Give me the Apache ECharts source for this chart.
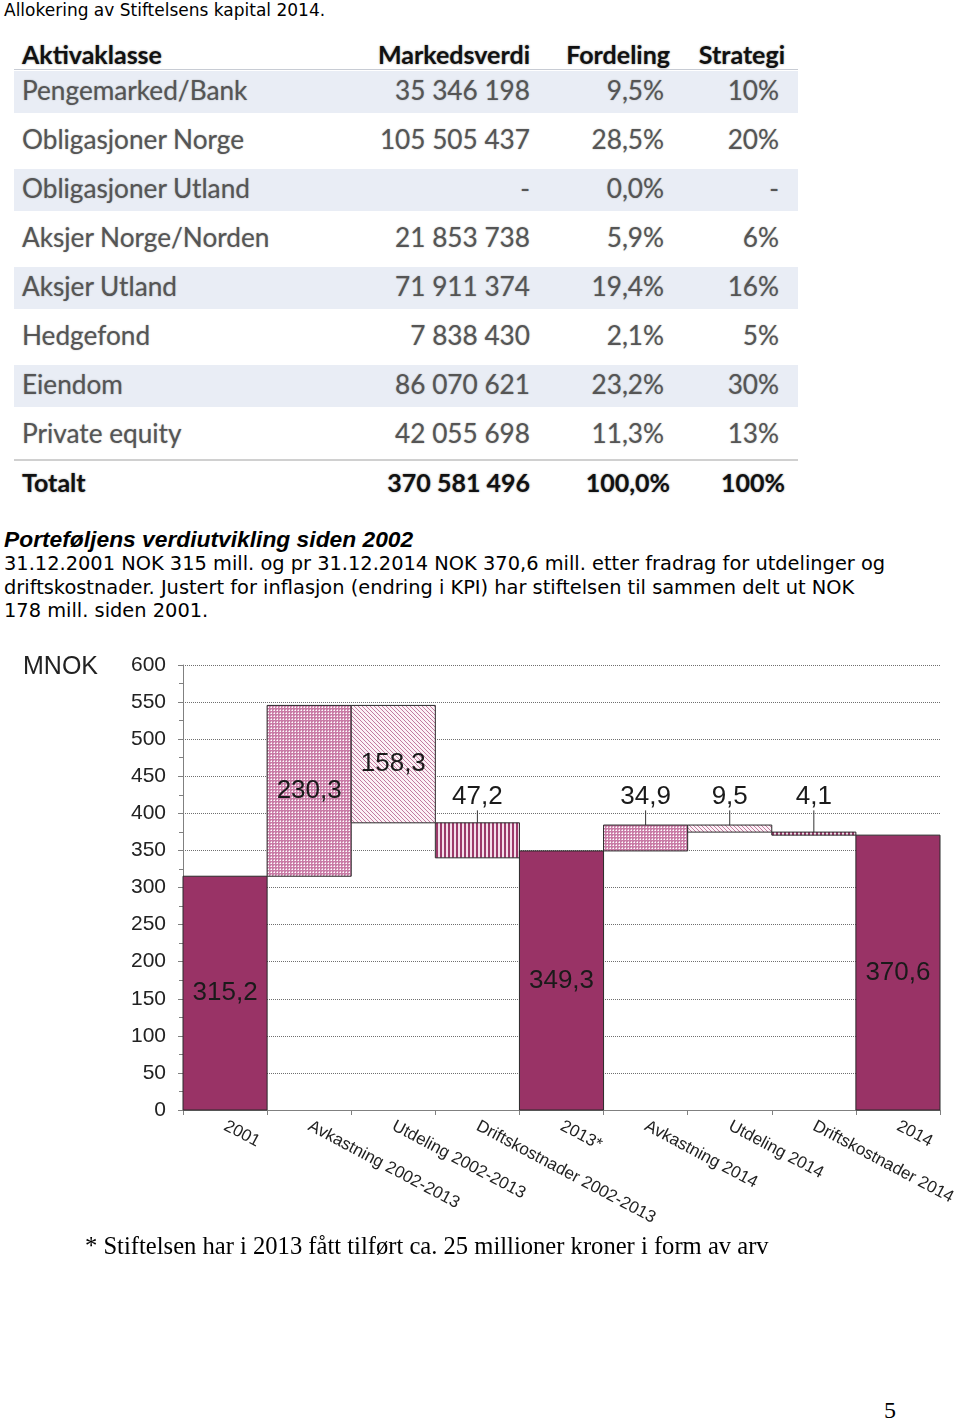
<!DOCTYPE html>
<html>
<head>
<meta charset="utf-8">
<script src="https://cdn.jsdelivr.net/npm/echarts@6.0.0/dist/echarts.min.js"></script>
<style>
  html, body { margin: 0; padding: 0; background: #fff; }
  #page { position: relative; width: 960px; height: 1420px; overflow: hidden; background: #fff; }
  .abs { position: absolute; white-space: nowrap; }
  .verdana { font-family: "DejaVu Sans", Verdana, sans-serif; color: #000; }
  .tbl { font-family: Lato, "Open Sans", sans-serif; font-size: 26.2px; }
  .band { position: absolute; left: 14px; width: 784px; height: 42px; background: #e9edf5; }
  .cell { position: absolute; height: 44px; line-height: 44px; color: #555; text-shadow: 0 0 1.5px rgba(0,0,0,0.35); }
  .head { color: #111; font-weight: bold; font-size: 25px; text-shadow: 0 0 2px rgba(0,0,0,0.45); }
  #chart { position: absolute; left: 0; top: 640px; width: 960px; height: 600px; }
</style>
</head>
<body>
<div id="page">
  <div class="abs verdana" style="left:4px; top:0; font-size:17px; line-height:20px;">Allokering av Stiftelsens kapital 2014.</div>
  <div id="table"></div>
  <div class="abs" style="left:4px; top:526px; font:italic bold 22.8px 'Liberation Sans', Arial, sans-serif; line-height:26px;">Porteføljens verdiutvikling siden 2002</div>
  <div class="abs verdana" style="left:4px; top:552px; font-size:19.4px; line-height:23.5px;">31.12.2001 NOK 315 mill. og pr 31.12.2014 NOK 370,6 mill. etter fradrag for utdelinger og<br>driftskostnader. Justert for inflasjon (endring i KPI) har stiftelsen til sammen delt ut NOK<br>178 mill. siden 2001.</div>
  <div id="chart"></div>
  <div class="abs" style="left:85px; top:1231px; font:24.6px 'Liberation Serif', 'Times New Roman', serif; line-height:30px;">* Stiftelsen har i 2013 fått tilført ca. 25 millioner kroner i form av arv</div>
  <div class="abs" style="left:884px; top:1395px; font:24px 'Liberation Serif', 'Times New Roman', serif; line-height:30px;">5</div>
</div>
<script>
// tabell: allokering 2014
const tableHeader = ['Aktivaklasse', 'Markedsverdi', 'Fordeling', 'Strategi'];
const assetClasses = ['Pengemarked/Bank', 'Obligasjoner Norge', 'Obligasjoner Utland', 'Aksjer Norge/Norden', 'Aksjer Utland', 'Hedgefond', 'Eiendom', 'Private equity'];
const marketValues = ['35 346 198', '105 505 437', '-', '21 853 738', '71 911 374', '7 838 430', '86 070 621', '42 055 698'];
const shares = ['9,5%', '28,5%', '0,0%', '5,9%', '19,4%', '2,1%', '23,2%', '11,3%'];
const strategy = ['10%', '20%', '-', '6%', '16%', '5%', '30%', '13%'];
const totalRow = ['Totalt', '370 581 496', '100,0%', '100%'];

// waterfall: verdiutvikling
const categories = ['2001', 'Avkastning 2002-2013', 'Utdeling 2002-2013', 'Driftskostnader 2002-2013', '2013*', 'Avkastning 2014', 'Utdeling 2014', 'Driftskostnader 2014', '2014'];
const values = [315.2, 230.3, -158.3, -47.2, 349.3, 34.9, -9.5, -4.1, 370.6];
const kinds = ['total', 'gain', 'payout', 'cost', 'total', 'gain', 'payout', 'cost', 'total'];
const yMin = 0, yMax = 600, yStep = 50;

// ---- tabell ----
(function () {
  const t = document.getElementById('table');
  let html = '';
  function row(cy, cells, cls) {
    html += '<div class="cell tbl ' + cls + '" style="left:22px; top:' + (cy - 22) + 'px;">' + cells[0] + '</div>';
    html += '<div class="cell tbl ' + cls + '" style="right:' + (960 - 530) + 'px; top:' + (cy - 22) + 'px;">' + cells[1] + '</div>';
    html += '<div class="cell tbl ' + cls + '" style="right:' + (960 - cells[4]) + 'px; top:' + (cy - 22) + 'px;">' + cells[2] + '</div>';
    html += '<div class="cell tbl ' + cls + '" style="right:' + (960 - cells[5]) + 'px; top:' + (cy - 22) + 'px;">' + cells[3] + '</div>';
  }
  for (let i = 0; i < assetClasses.length; i += 2) {
    html += '<div class="band" style="top:' + (90 + 49 * i - 19) + 'px;"></div>';
  }
  html += '<div style="position:absolute;left:14px;width:784px;top:69px;height:1px;background:#c8ccd4;"></div>';
  html += '<div style="position:absolute;left:14px;width:784px;top:459px;height:2px;background:#d0d0d0;"></div>';
  row(54, tableHeader.concat([670, 785]), 'head');
  assetClasses.forEach(function (a, i) {
    row(90 + 49 * i, [a, marketValues[i], shares[i], strategy[i], 664, 779], '');
  });
  row(482, totalRow.concat([670, 785]), 'head');
  t.innerHTML = html;
})();

// ---- mønstre ----
function pattern(size, draw) {
  const c = document.createElement('canvas');
  c.width = c.height = size;
  draw(c.getContext('2d'), size);
  return { image: c, repeat: 'repeat' };
}
const fills = {
  total: '#993366',
  gain: pattern(3, function (ctx) {
    ctx.fillStyle = '#c97ca6'; ctx.fillRect(0, 0, 3, 3);
    ctx.fillStyle = '#ffffff'; ctx.fillRect(1, 1, 1, 1);
    ctx.fillStyle = '#e8c4d8'; ctx.fillRect(0, 1, 1, 1); ctx.fillRect(1, 0, 1, 1);
  }),
  payout: pattern(4, function (ctx) {
    ctx.fillStyle = '#fbf1f6'; ctx.fillRect(0, 0, 4, 4);
    ctx.fillStyle = '#c27a9f';
    for (let k = 0; k < 4; k++) ctx.fillRect(k, k, 1, 1);
  }),
  cost: pattern(4, function (ctx) {
    ctx.fillStyle = '#f4dde9'; ctx.fillRect(0, 0, 4, 4);
    ctx.fillStyle = '#9b3a6a'; ctx.fillRect(0, 0, 2, 4);
  })
};

// ---- waterfall ----
let level = 0;
const steps = values.map(function (v, i) {
  if (kinds[i] === 'total') { level = v; return [i, 0, v, v]; }
  const from = level;
  level = from + v;
  return [i, Math.min(from, level), Math.max(from, level), v];
});

const chart = echarts.init(document.getElementById('chart'));
const labelFont = '26px "Liberation Sans", Arial, sans-serif';
chart.setOption({
  animation: false,
  title: {
    text: 'MNOK', left: 18, top: 10,
    textStyle: { fontFamily: 'Liberation Sans', fontSize: 25, fontWeight: 'normal', color: '#222' }
  },
  grid: { left: 183, right: 20, top: 25, bottom: 130 },
  xAxis: {
    type: 'category',
    data: categories,
    axisLine: { lineStyle: { color: '#808080', width: 1 } },
    axisTick: { show: true, interval: 0, length: 5, lineStyle: { color: '#808080' } },
    axisLabel: {
      interval: 0, rotate: -28, margin: 15,
      fontFamily: 'Liberation Sans', fontSize: 17, color: '#222'
    },
    splitLine: { show: false }
  },
  yAxis: {
    type: 'value',
    min: yMin, max: yMax, interval: yStep,
    axisLine: { show: true, lineStyle: { color: '#808080' } },
    axisTick: { show: true, length: 5, lineStyle: { color: '#808080' } },
    minorTick: { show: true, splitNumber: 2, length: 4, lineStyle: { color: '#808080' } },
    axisLabel: { margin: 17, fontFamily: 'Liberation Sans', fontSize: 21, color: '#222' },
    splitLine: { lineStyle: { type: 'dotted', color: '#6f6f6f', width: 1 } }
  },
  series: [{
    type: 'custom',
    data: steps,
    encode: { x: 0, y: [1, 2] },
    renderItem: function (params, api) {
      const i = params.dataIndex;
      const kind = kinds[i];
      const v = api.value(3);
      const top = api.coord([api.value(0), api.value(2)]);
      const bot = api.coord([api.value(0), api.value(1)]);
      const w = api.size([1, 0])[0];
      const children = [{
        type: 'rect',
        shape: { x: top[0] - w / 2, y: top[1], width: w, height: Math.max(bot[1] - top[1], 1) },
        style: { fill: fills[kind], stroke: '#2a2a2a', lineWidth: 1 }
      }];
      const txt = Math.abs(v).toFixed(1).replace('.', ',');
      if (kind === 'total' || Math.abs(v) > 100) {
        children.push({
          type: 'text',
          x: top[0], y: (top[1] + bot[1]) / 2,
          style: { text: txt, align: 'center', verticalAlign: 'middle', font: labelFont, fill: '#1a1a1a' }
        });
      } else {
        // etikett over søylen med strek
        const lab = api.coord([api.value(0), 422]);
        const lineEnd = api.coord([api.value(0), 404]);
        children.push({
          type: 'line',
          shape: { x1: top[0], y1: top[1], x2: top[0], y2: lineEnd[1] },
          style: { stroke: '#333', lineWidth: 1 }
        });
        children.push({
          type: 'text',
          x: lab[0], y: lab[1],
          style: { text: txt, align: 'center', verticalAlign: 'middle', font: labelFont, fill: '#1a1a1a' }
        });
      }
      return { type: 'group', children: children };
    }
  }]
});
</script>
</body>
</html>
